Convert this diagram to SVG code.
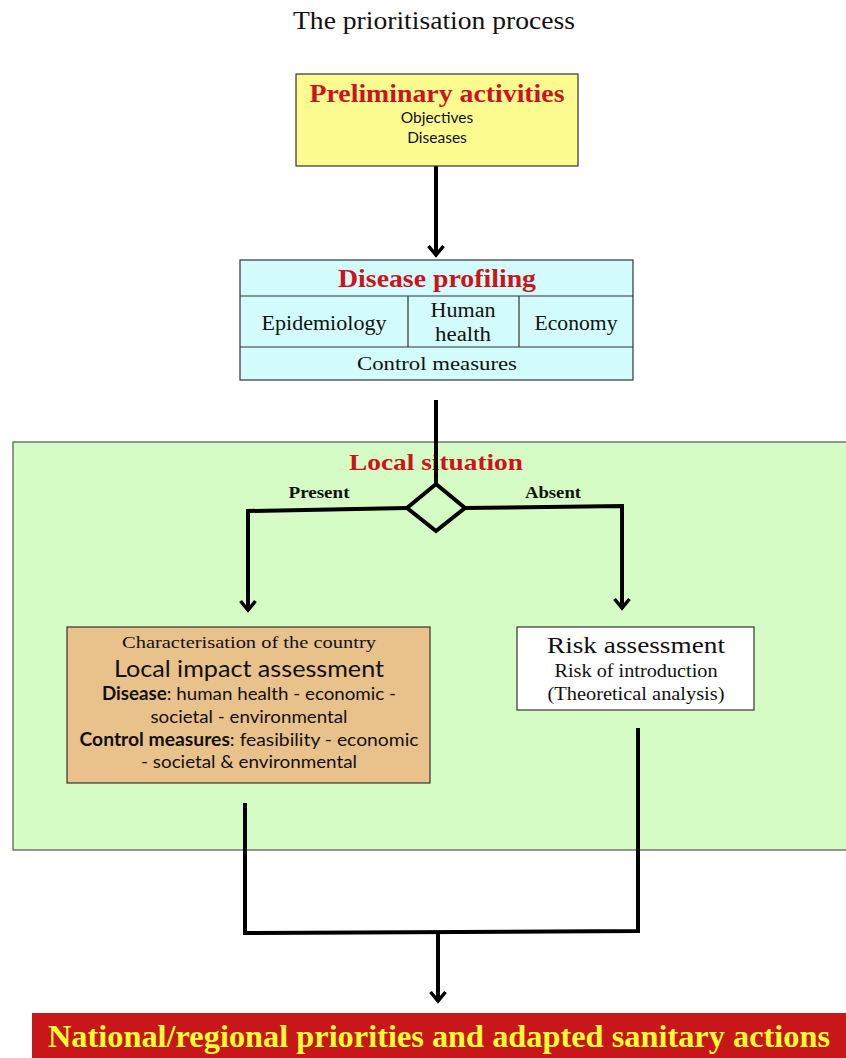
<svg xmlns="http://www.w3.org/2000/svg" width="846" height="1058" viewBox="0 0 846 1058">
<defs>
<style>
.box{stroke:#333;stroke-width:1.2}
.ln{fill:none;stroke:#000;stroke-width:4;stroke-linejoin:miter}
.ser{font-family:"Liberation Serif","DejaVu Serif",serif;fill:#111}
.san{font-family:Lato,"Liberation Sans",sans-serif;fill:#111}
.red{fill:#cc141c;font-weight:bold}
</style>
<marker id="ah" viewBox="0 0 20 20" refX="17" refY="10" markerWidth="20" markerHeight="20" markerUnits="userSpaceOnUse" orient="auto">
<path d="M8,2.5 L17,10 L8,17.5" fill="none" stroke="#000" stroke-width="3.5"/>
</marker>
</defs>
<rect width="846" height="1058" fill="#fff"/>
<text class="ser" x="434" y="29" font-size="25" text-anchor="middle" textLength="282" lengthAdjust="spacingAndGlyphs">The prioritisation process</text>

<g id="local-situation">
<rect x="13" y="442" width="840" height="408" fill="#d5fcc5" stroke="#555" stroke-width="1.2"/>
<text class="ser red" x="436" y="470" font-size="23" text-anchor="middle" textLength="174" lengthAdjust="spacingAndGlyphs">Local situation</text>
</g>

<g id="connectors">
<line class="ln" x1="436" y1="166" x2="436" y2="255" marker-end="url(#ah)"/>
<line class="ln" x1="436" y1="400" x2="436" y2="484"/>
<polygon class="ln" points="436,484 465,508 436,531 407,508"/>
<polyline class="ln" points="407,508 248,511 248,610" marker-end="url(#ah)"/>
<polyline class="ln" points="465,508 622,506 622,608" marker-end="url(#ah)"/>
<polyline class="ln" points="245,803 245,933 638,931 638,728"/>
<line class="ln" x1="438" y1="932" x2="438" y2="1001" marker-end="url(#ah)"/>
<text class="ser" x="319" y="498" font-size="16" font-weight="bold" text-anchor="middle" textLength="61" lengthAdjust="spacingAndGlyphs">Present</text>
<text class="ser" x="553" y="498" font-size="16" font-weight="bold" text-anchor="middle" textLength="56" lengthAdjust="spacingAndGlyphs">Absent</text>
</g>

<g id="preliminary">
<rect class="box" x="296" y="74" width="282" height="92" fill="#fbfb90"/>
<text class="ser red" x="437" y="102" font-size="26" text-anchor="middle" textLength="255" lengthAdjust="spacingAndGlyphs">Preliminary activities</text>
<text class="san" x="437" y="123" font-size="15.5" text-anchor="middle">Objectives</text>
<text class="san" x="437" y="143" font-size="15.5" text-anchor="middle">Diseases</text>
</g>

<g id="disease-profiling">
<rect class="box" x="240" y="260" width="393" height="120" fill="#d3fcfd"/>
<line class="box" x1="240" y1="296" x2="633" y2="296"/>
<line class="box" x1="240" y1="347" x2="633" y2="347"/>
<line class="box" x1="408" y1="296" x2="408" y2="347"/>
<line class="box" x1="519" y1="296" x2="519" y2="347"/>
<text class="ser red" x="437" y="287" font-size="26" text-anchor="middle" textLength="198" lengthAdjust="spacingAndGlyphs">Disease profiling</text>
<text class="ser" x="324" y="330" font-size="20" text-anchor="middle" textLength="125" lengthAdjust="spacingAndGlyphs">Epidemiology</text>
<text class="ser" x="463" y="317" font-size="20" text-anchor="middle" textLength="65" lengthAdjust="spacingAndGlyphs">Human</text>
<text class="ser" x="463" y="341" font-size="20" text-anchor="middle" textLength="56" lengthAdjust="spacingAndGlyphs">health</text>
<text class="ser" x="576" y="330" font-size="20" text-anchor="middle" textLength="83" lengthAdjust="spacingAndGlyphs">Economy</text>
<text class="ser" x="437" y="370" font-size="19" text-anchor="middle" textLength="160" lengthAdjust="spacingAndGlyphs">Control measures</text>
</g>

<g id="local-impact">
<rect class="box" x="67" y="627" width="363" height="156" fill="#e9c18b"/>
<text class="ser" x="249" y="648" font-size="17" text-anchor="middle" textLength="254" lengthAdjust="spacingAndGlyphs">Characterisation of the country</text>
<text class="san" x="249" y="677" font-size="24" text-anchor="middle" textLength="270" lengthAdjust="spacingAndGlyphs">Local impact assessment</text>
<text class="san" x="249" y="700" font-size="18" text-anchor="middle" textLength="294" lengthAdjust="spacingAndGlyphs"><tspan font-weight="bold">Disease</tspan>: human health - economic -</text>
<text class="san" x="249" y="723" font-size="18" text-anchor="middle" textLength="197" lengthAdjust="spacingAndGlyphs">societal - environmental</text>
<text class="san" x="249" y="746" font-size="18" text-anchor="middle" textLength="339" lengthAdjust="spacingAndGlyphs"><tspan font-weight="bold">Control measures</tspan>: feasibility - economic</text>
<text class="san" x="249" y="768" font-size="18" text-anchor="middle" textLength="216" lengthAdjust="spacingAndGlyphs">- societal &amp; environmental</text>
</g>

<g id="risk-assessment">
<rect class="box" x="517" y="627" width="237" height="83" fill="#fff"/>
<text class="ser" x="636" y="653" font-size="24" text-anchor="middle" textLength="178" lengthAdjust="spacingAndGlyphs">Risk assessment</text>
<text class="ser" x="636" y="677" font-size="18" text-anchor="middle" textLength="163" lengthAdjust="spacingAndGlyphs">Risk of introduction</text>
<text class="ser" x="636" y="700" font-size="18" text-anchor="middle" textLength="177" lengthAdjust="spacingAndGlyphs">(Theoretical analysis)</text>
</g>

<g id="priorities">
<rect x="32" y="1013" width="820" height="50" fill="#c8161b"/>
<text class="ser" x="439" y="1047" font-size="31" font-weight="bold" text-anchor="middle" style="fill:#ffff33" textLength="782" lengthAdjust="spacingAndGlyphs">National/regional priorities and adapted sanitary actions</text>
</g>
</svg>
